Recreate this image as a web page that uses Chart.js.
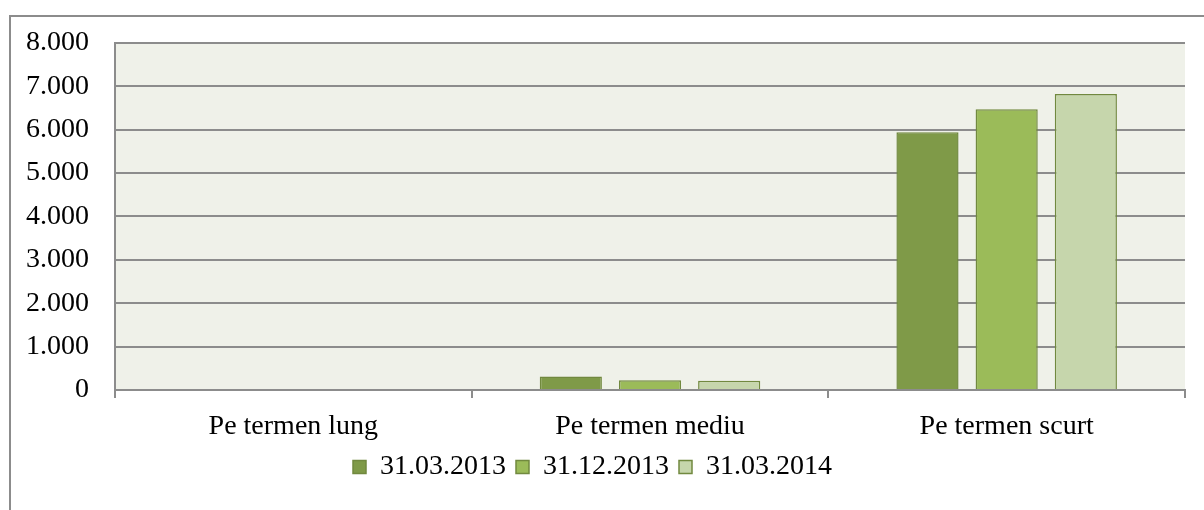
<!DOCTYPE html>
<html>
<head>
<meta charset="utf-8">
<script src="https://cdn.jsdelivr.net/npm/chart.js@4/dist/chart.umd.min.js"></script>
<style>
  html, body { margin: 0; padding: 0; background: #fff; }
  #wrap { position: relative; width: 1204px; height: 510px; overflow: hidden; }
  #frame { position: absolute; left: 9px; top: 15px; width: 1210px; height: 510px; border: 2px solid #8c8c8c; }
  #chart { position: absolute; left: 0; top: 0; }
</style>
</head>
<body>
<div id="wrap">
  <div id="frame"></div>
  <canvas id="chart" width="1204" height="510"></canvas>
</div>
<script>
// data
var categories = ["Pe termen lung", "Pe termen mediu", "Pe termen scurt"];
var seriesNames = ["31.03.2013", "31.12.2013", "31.03.2014"];
var values2013mar = [0, 310, 5940];
var values2013dec = [0, 225, 6470];
var values2014mar = [0, 215, 6820];
var yTicks = [0, 1000, 2000, 3000, 4000, 5000, 6000, 7000, 8000];

// colours
var fills = ["#7f9a48", "#9bbb59", "#c6d6ac"];
var edge = "#71893f";
var gridGray = "#8c8c8c";

function fmt(v) {
  // 8000 -> 8.000
  var s = String(Math.round(v));
  return s.replace(/\B(?=(\d{3})+(?!\d))/g, ".");
}

// plot area background
var plotBg = {
  id: "plotBg",
  beforeDraw: function(chart) {
    var a = chart.chartArea;
    var c = chart.ctx;
    c.save();
    c.fillStyle = "#eff1e9";
    c.fillRect(a.left, a.top, a.right - a.left, a.bottom - a.top);
    c.restore();
  }
};

Chart.defaults.font.family = "'Liberation Serif', serif";
Chart.defaults.font.size = 28;
Chart.defaults.color = "#000";

var ctx = document.getElementById("chart").getContext("2d");
var chart = new Chart(ctx, {
  type: "bar",
  data: {
    labels: categories,
    datasets: [
      { label: seriesNames[0], data: values2013mar, backgroundColor: fills[0], borderColor: edge, borderWidth: 1.5 },
      { label: seriesNames[1], data: values2013dec, backgroundColor: fills[1], borderColor: edge, borderWidth: 1.5 },
      { label: seriesNames[2], data: values2014mar, backgroundColor: fills[2], borderColor: edge, borderWidth: 1.5 }
    ]
  },
  options: {
    responsive: false,
    animation: false,
    layout: { padding: { left: 0, right: 19, top: 42, bottom: 19 } },
    datasets: { bar: { categoryPercentage: 0.666, barPercentage: 0.785 } },
    scales: {
      x: {
        grid: { offset: true, drawOnChartArea: false, drawTicks: true, tickLength: 8, color: gridGray, lineWidth: 2 },
        border: { color: gridGray, width: 2 },
        ticks: { padding: 12 },
        afterFit: function(scale) { scale.height = 53; }
      },
      y: {
        min: 0,
        max: 8000,
        afterBuildTicks: function(axis) {
          axis.ticks = yTicks.map(function(v) { return { value: v }; });
        },
        grid: { color: gridGray, lineWidth: 2, drawTicks: false },
        border: { color: gridGray, width: 2 },
        ticks: { padding: 26, callback: function(v) { return fmt(v); } }
      }
    },
    plugins: {
      legend: {
        position: "bottom",
        labels: { boxWidth: 13, boxHeight: 13, padding: 10, font: { size: 28 } }
      },
      tooltip: { enabled: false }
    }
  },
  plugins: [plotBg]
});
</script>
</body>
</html>
